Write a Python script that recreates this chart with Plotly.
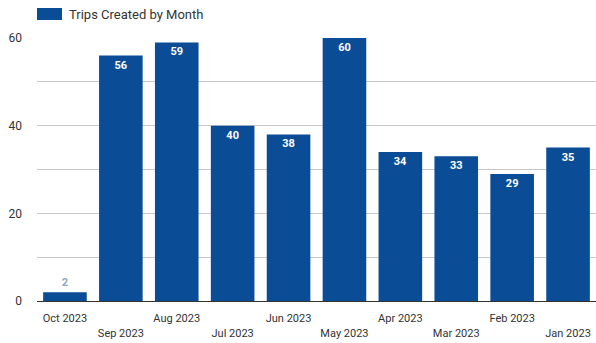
import plotly.graph_objects as go

months = ["Oct 2023", "Sep 2023", "Aug 2023", "Jul 2023", "Jun 2023",
          "May 2023", "Apr 2023", "Mar 2023", "Feb 2023", "Jan 2023"]
trips = [2, 56, 59, 40, 38, 60, 34, 33, 29, 35]
series_name = "Trips Created by Month"
y_ticks = [0, 20, 40, 60]

BAR = "#0a4c96"
tick_text = [m if i % 2 == 0 else "<br>" + m for i, m in enumerate(months)]
label_pos = ["outside" if v < 5 else "inside" for v in trips]
label_col = ["#8aa6c8" if v < 5 else "white" for v in trips]

fig = go.Figure()
fig.add_trace(go.Bar(
    x=months, y=trips, name=series_name,
    marker=dict(color=BAR, line=dict(width=0)),
    text=[str(v) for v in trips],
    textposition=label_pos,
    insidetextanchor="end",
    textfont=dict(color=label_col, size=11, family="Roboto"),
    cliponaxis=False,
    showlegend=False,
))
fig.update_traces(texttemplate="<b>%{text}</b>")

# legend drawn as swatch + text
fig.add_shape(type="rect", xref="paper", yref="paper",
              x0=0, x1=25 / 559, y0=1 + 18 / 263, y1=1 + 30 / 263,
              fillcolor=BAR, line=dict(width=0))
fig.add_annotation(xref="paper", yref="paper", x=30 / 559, y=1 + 24 / 263,
                   xanchor="left", yanchor="middle", showarrow=False,
                   text=series_name, font=dict(size=13, color="#333333", family="Roboto"))

fig.update_layout(
    width=596, height=343,
    margin=dict(l=37, r=0, t=38, b=42),
    plot_bgcolor="white", paper_bgcolor="white",
    bargap=0.22,
    font=dict(family="Roboto", size=11, color="#333333"),
    showlegend=False,
    uniformtext=dict(minsize=8, mode="show"),
)
fig.update_xaxes(
    tickmode="array", tickvals=months, ticktext=tick_text,
    showgrid=False, showline=True, linecolor="#333333", linewidth=1,
    ticks="", tickfont=dict(size=11, color="#333333"), ticklabelstandoff=7,
    automargin=False,
)
fig.update_yaxes(
    range=[0, 60], tickmode="array", tickvals=y_ticks,
    showgrid=True, gridcolor="#c8c8c8", gridwidth=1,
    minor=dict(dtick=10, showgrid=True, gridcolor="#c8c8c8"),
    zeroline=False, ticks="", ticklabelstandoff=14,
    tickfont=dict(size=12, color="#333333"), automargin=False,
)
fig.write_html("out.html", config={"displayModeBar": False},
               post_script="document.body.style.margin='0';")
